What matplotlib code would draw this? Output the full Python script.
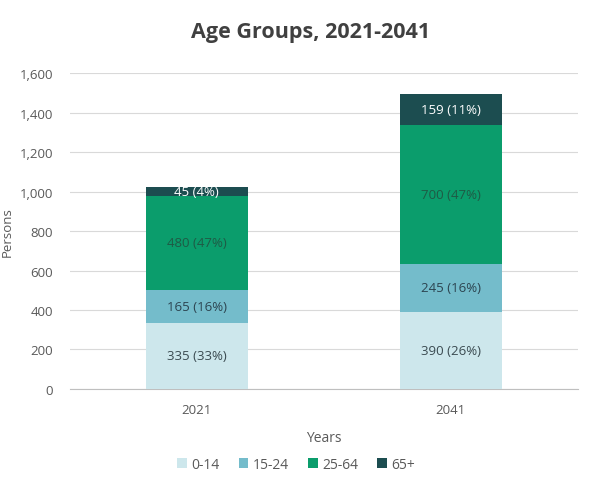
import matplotlib.pyplot as plt
import numpy as np

plt.rcParams['font.family'] = ['Open Sans', 'DejaVu Sans']

years = ['2021', '2041']
groups = ['0-14', '15-24', '25-64', '65+']
counts = {
    '0-14': [335, 390],
    '15-24': [165, 245],
    '25-64': [480, 700],
    '65+': [45, 159],
}
shares = {
    '0-14': [33, 26],
    '15-24': [16, 16],
    '25-64': [47, 47],
    '65+': [4, 11],
}
colors = ['#cde7ec', '#74bccb', '#0b9d6c', '#1c4d50']
label_colors = ['#3a4a50', '#2c4450', '#1f5a45', 'white']

fig = plt.figure(figsize=(5.92, 4.85), dpi=100)
ax = fig.add_axes([0.118, 0.196, 0.858, 0.651])

x = np.arange(len(years))
bottom = np.zeros(len(years))
for g, c, lc in zip(groups, colors, label_colors):
    vals = np.array(counts[g], dtype=float)
    ax.bar(x, vals, 0.4, bottom=bottom, color=c, label=g, zorder=3)
    for i, v in enumerate(vals):
        ax.text(x[i], bottom[i] + v / 2, f'{int(v)} ({shares[g][i]}%)',
                ha='center', va='center', color=lc, fontsize=9.5, zorder=4)
    bottom += vals

ax.set_xlim(-0.5, 1.5)
ax.set_ylim(0, 1600)
ax.set_yticks(np.arange(0, 1601, 200))
ax.set_yticklabels([f'{v:,}' for v in range(0, 1601, 200)])
ax.set_xticks(x)
ax.set_xticklabels(years)
ax.grid(axis='y', color='#d9d9d9', linewidth=0.8, zorder=0)
for s in ['top', 'right', 'left']:
    ax.spines[s].set_visible(False)
ax.spines['bottom'].set_color('#bfbfbf')
ax.tick_params(axis='both', length=0, colors='#595959', labelsize=9.5)
ax.tick_params(axis='x', pad=10)
ax.tick_params(axis='y', pad=12)

fig.text(0.525, 0.932, 'Age Groups, 2021-2041', fontsize=15.5, color='#404040',
         fontweight='bold', ha='center', va='center')
ax.set_ylabel('Persons', fontsize=9.5, color='#595959', labelpad=4)
ax.set_xlabel('Years', fontsize=10, color='#595959', labelpad=10)

fig.legend(*ax.get_legend_handles_labels(), loc='center', bbox_to_anchor=(0.5, 0.04),
           ncol=4, frameon=False, fontsize=10, handlelength=0.7, handleheight=0.7,
           handletextpad=0.3, columnspacing=1.4, labelcolor='#595959')

fig.savefig('out.png', dpi=100)
